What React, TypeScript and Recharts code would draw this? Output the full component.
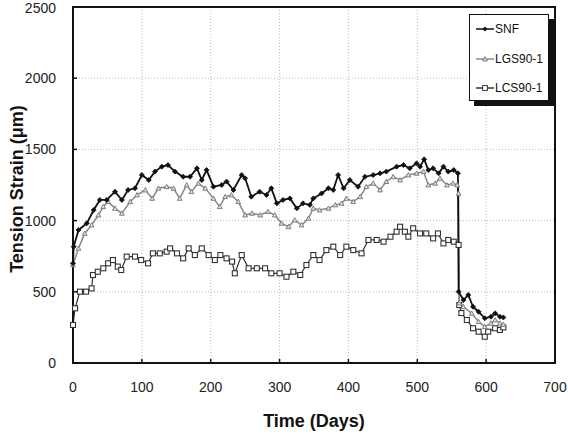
import { LineChart, Line, XAxis, YAxis, CartesianGrid, ReferenceArea, Label } from 'recharts';

// Tension strain readings (µm) against elapsed time (days)
const snfDays = [
  0, 1, 8, 20, 30, 39, 49, 61, 71, 80, 90, 100, 110, 119, 129, 138, 148, 160, 170, 180,
  187, 194, 204, 216, 223, 233, 245, 250, 259, 271, 281, 288, 296, 305, 315, 325, 334, 344,
  349, 361, 371, 378, 385, 393, 402, 414, 424, 436, 446, 455, 470, 480, 489, 499, 504, 510,
  516, 523, 531, 538, 545, 553, 559, 560, 567, 574, 581, 589, 598, 607, 613, 620, 625,
];
const snfStrain = [
  700, 817, 934, 981, 1074, 1145, 1145, 1203, 1145, 1215, 1227, 1320, 1285, 1344, 1379, 1390, 1344, 1308, 1308, 1367,
  1285, 1355, 1238, 1250, 1274, 1215, 1320, 1297, 1168, 1203, 1180, 1227, 1121, 1145, 1156, 1086, 1121, 1110,
  1156, 1191, 1227, 1215, 1320, 1227, 1285, 1238, 1308, 1320, 1332, 1344, 1379, 1390, 1367, 1402, 1379, 1430,
  1355, 1367, 1332, 1379, 1344, 1355, 1332, 501, 442, 478, 395, 360, 314, 325, 349, 325, 320,
];

const lgsDays = [
  0, 8, 17, 27, 37, 44, 51, 61, 71, 83, 93, 105, 115, 124, 136, 146, 155, 165, 172, 182,
  192, 204, 213, 221, 230, 240, 250, 260, 272, 283, 293, 303, 313, 322, 332, 342, 349, 358,
  371, 381, 390, 397, 407, 417, 426, 436, 446, 455, 465, 475, 487, 499, 509, 516, 526, 533,
  543, 552, 558, 560, 561, 567, 579, 589, 598, 607, 613, 620, 625,
];
const lgsStrain = [
  690, 805, 910, 969, 1039, 1098, 1133, 1086, 1051, 1133, 1180, 1215, 1156, 1227, 1238, 1227, 1156, 1250, 1203, 1262,
  1227, 1156, 1098, 1168, 1180, 1133, 1039, 1051, 1039, 1063, 1039, 981, 957, 1004, 969, 1016, 1086, 1074,
  1086, 1110, 1121, 1156, 1133, 1168, 1238, 1262, 1215, 1274, 1308, 1285, 1320, 1332, 1344, 1250, 1262, 1297,
  1250, 1262, 1250, 1191, 421, 395, 349, 290, 255, 279, 302, 279, 270,
];

const lcsDays = [
  0, 3, 10, 19, 27, 29, 36, 44, 51, 58, 65, 70, 78, 90, 99, 109, 116, 126, 136, 141,
  151, 160, 168, 177, 187, 197, 206, 214, 223, 231, 235, 245, 255, 267, 279, 288, 300, 310,
  320, 330, 339, 349, 358, 368, 378, 388, 397, 407, 419, 429, 441, 451, 461, 470, 475, 482,
  487, 494, 504, 513, 523, 530, 538, 545, 553, 560, 561, 564, 572, 581, 589, 598, 603, 613, 620, 625,
];
const lcsStrain = [
  267, 384, 501, 501, 524, 618, 641, 665, 700, 723, 677, 653, 747, 747, 723, 700, 770, 770, 782, 805,
  770, 735, 805, 758, 805, 758, 723, 758, 735, 712, 630, 758, 665, 665, 665, 630, 630, 606,
  641, 618, 688, 758, 723, 793, 817, 758, 817, 793, 770, 864, 864, 852, 887, 922, 957, 922,
  887, 946, 910, 910, 875, 910, 840, 864, 852, 829, 407, 351, 302, 244, 220, 185, 220, 244, 232, 250,
];

const xTicks = [0, 100, 200, 300, 400, 500, 600, 700];
const yTicks = [0, 500, 1000, 1500, 2000, 2500];

const toPoints = (days: number[], strain: number[]) =>
  days.map((day, i) => ({ day, strain: strain[i] }));

const snfData = toPoints(snfDays, snfStrain);
const lgsData = toPoints(lgsDays, lgsStrain);
const lcsData = toPoints(lcsDays, lcsStrain);

const FONT = '"Liberation Sans", Arial, sans-serif';

const diamondDot = (p: any) => {
  const { cx, cy, index } = p;
  if (cx == null || cy == null) return <g key={`snf-${index}`} />;
  const r = 2.5;
  return (
    <path
      key={`snf-${index}`}
      d={`M${cx},${cy - r}L${cx + r},${cy}L${cx},${cy + r}L${cx - r},${cy}Z`}
      fill="#111"
      stroke="#111"
      strokeWidth={0.8}
    />
  );
};

const triangleDot = (p: any) => {
  const { cx, cy, index } = p;
  if (cx == null || cy == null) return <g key={`lgs-${index}`} />;
  const r = 2.4;
  return (
    <path
      key={`lgs-${index}`}
      d={`M${cx},${cy - r}L${cx + r},${cy + r * 0.8}L${cx - r},${cy + r * 0.8}Z`}
      fill="#ddd"
      stroke="#808080"
      strokeWidth={1}
    />
  );
};

const squareDot = (p: any) => {
  const { cx, cy, index } = p;
  if (cx == null || cy == null) return <g key={`lcs-${index}`} />;
  const s = 2.5;
  return (
    <rect
      key={`lcs-${index}`}
      x={cx - s}
      y={cy - s}
      width={s * 2}
      height={s * 2}
      fill="#fff"
      stroke="#333"
      strokeWidth={1.1}
    />
  );
};

const legendItems = [
  { name: 'SNF', color: '#111', marker: 'diamond' },
  { name: 'LGS90-1', color: '#888', marker: 'triangle' },
  { name: 'LCS90-1', color: '#333', marker: 'square' },
];

function LegendBox() {
  return (
    <div
      style={{
        position: 'absolute',
        left: 469,
        top: 14,
        width: 78,
        height: 85,
        background: '#fff',
        border: '1px solid #111',
        boxShadow: '5px 5px 0 #111',
        fontFamily: FONT,
        fontSize: 12,
        color: '#111',
      }}
    >
      {legendItems.map((item, i) => (
        <div
          key={item.name}
          style={{ position: 'absolute', left: 6, top: 7 + i * 29.5, display: 'flex', alignItems: 'center' }}
        >
          <svg width={18} height={10}>
            <line x1={0} y1={5} x2={18} y2={5} stroke={item.color} strokeWidth={1.5} />
            {item.marker === 'diamond' && <path d="M9,2.6L11.4,5L9,7.4L6.6,5Z" fill="#111" />}
            {item.marker === 'triangle' && <path d="M9,2.6L11.4,6.9L6.6,6.9Z" fill="#ddd" stroke="#808080" />}
            {item.marker === 'square' && <rect x={6.6} y={2.6} width={4.8} height={4.8} fill="#fff" stroke="#333" />}
          </svg>
          <span style={{ marginLeft: 1 }}>{item.name}</span>
        </div>
      ))}
    </div>
  );
}

export default function App() {
  return (
    <div style={{ position: 'absolute', left: 0, top: 0, width: 568, height: 444, background: '#fff' }}>
      <LineChart width={568} height={444} margin={{ top: 7, right: 13, bottom: 51, left: 13 }}>
        <CartesianGrid stroke="#bbb" strokeDasharray="1 2" />
        <XAxis
          type="number"
          dataKey="day"
          domain={[0, 700]}
          ticks={xTicks}
          height={30}
          axisLine={{ stroke: '#111', strokeWidth: 2 }}
          tickLine={{ stroke: '#111', strokeWidth: 1.5 }}
          tickSize={-4}
          tickMargin={23}
          tick={{ fill: '#222', fontSize: 14, fontFamily: FONT }}
          allowDuplicatedCategory={false}
        >
          <Label
            value="Time (Days)"
            position="center"
            dy={43}
            style={{ fontSize: 18, fontWeight: 'bold', fontFamily: FONT, fill: '#111' }}
          />
        </XAxis>
        <YAxis
          type="number"
          dataKey="strain"
          domain={[0, 2500]}
          ticks={yTicks}
          width={60}
          axisLine={{ stroke: '#111', strokeWidth: 2 }}
          tickLine={{ stroke: '#111', strokeWidth: 1.5 }}
          tickSize={-4}
          tickMargin={21}
          tick={{ fill: '#222', fontSize: 14, fontFamily: FONT }}
        >
          <Label
            value="Tension Strain (μm)"
            position="center"
            angle={-90}
            dx={-26}
            dy={4}
            style={{ fontSize: 18, fontWeight: 'bold', fontFamily: FONT, fill: '#111', textAnchor: 'middle' }}
          />
        </YAxis>
        <ReferenceArea x1={0} x2={700} y1={0} y2={2500} fill="none" stroke="#111" strokeWidth={2} ifOverflow="visible" />
        <Line
          data={lcsData}
          dataKey="strain"
          type="linear"
          stroke="#333"
          strokeWidth={1.2}
          dot={squareDot}
          isAnimationActive={false}
        />
        <Line
          data={lgsData}
          dataKey="strain"
          type="linear"
          stroke="#888"
          strokeWidth={1.5}
          dot={triangleDot}
          isAnimationActive={false}
        />
        <Line
          data={snfData}
          dataKey="strain"
          type="linear"
          stroke="#111"
          strokeWidth={1.8}
          dot={diamondDot}
          isAnimationActive={false}
        />
      </LineChart>
      <LegendBox />
    </div>
  );
}
